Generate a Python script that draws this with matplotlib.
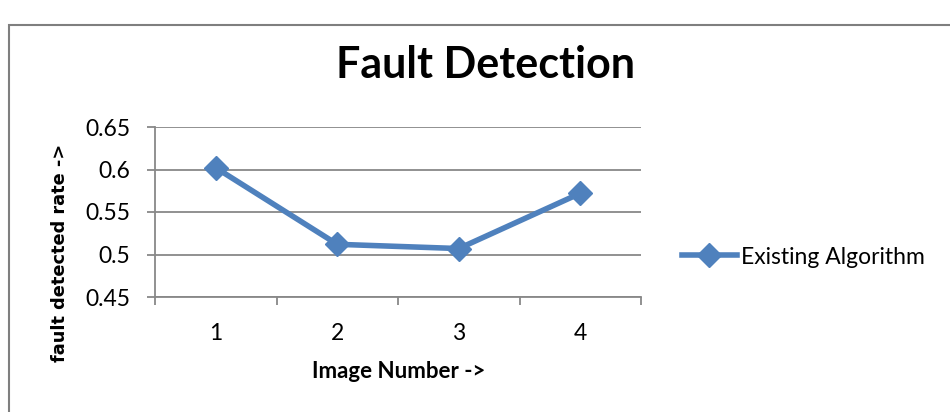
import matplotlib
matplotlib.use("Agg")
import matplotlib.pyplot as plt
from matplotlib.patches import Rectangle
from matplotlib.lines import Line2D

categories = ["1", "2", "3", "4"]
values = [0.602, 0.512, 0.507, 0.572]
series_name = "Existing Algorithm"
y_ticks = [0.45, 0.5, 0.55, 0.6, 0.65]
y_tick_labels = ["0.45", "0.5", "0.55", "0.6", "0.65"]

plt.rcParams['font.family'] = ['Lato', 'DejaVu Sans']
fig = plt.figure(figsize=(9.5, 4.12), dpi=100)
ax = fig.add_axes([155/950, 1-297/412, (641-155)/950, (297-127)/412])

blue = "#4F81BD"
grid_c = "#888888"
x = list(range(len(categories)))
ax.plot(x, values, color=blue, lw=4, marker="D", markersize=12.5,
        markerfacecolor=blue, markeredgecolor=blue, label=series_name, zorder=3,
        solid_joinstyle="round")

ax.set_xlim(-0.5, len(categories) - 0.5)
ax.set_ylim(0.45, 0.65)
ax.set_yticks(y_ticks)
ax.set_yticklabels(y_tick_labels, fontsize=16.5)
ax.set_xticks(x)
ax.set_xticklabels(categories, fontsize=16.5)
ax.set_xticks([i - 0.5 for i in range(len(categories) + 1)], minor=True)
ax.tick_params(axis="x", which="major", length=0, pad=19)
ax.tick_params(axis="x", which="minor", length=6, color=grid_c, width=1.3, direction="out")
ax.tick_params(axis="y", length=6, color=grid_c, width=1.3, pad=12)
ax.yaxis.grid(True, color=grid_c, lw=1.3)
ax.set_axisbelow(True)
for s in ["top", "right"]:
    ax.spines[s].set_visible(False)
for s in ["left", "bottom"]:
    ax.spines[s].set_color(grid_c)
    ax.spines[s].set_linewidth(1.3)

ax.set_xlabel("Image Number ->", fontsize=16, fontweight="bold")
ax.xaxis.set_label_coords(0.502, (297-372)/170)
ax.xaxis.label.set_va("center")
ax.set_ylabel("fault detected rate ->", fontsize=12.8, fontweight="bold",
              family="DejaVu Sans")
ax.yaxis.set_label_coords((60-155)/486, (297-253)/170)
ax.yaxis.label.set_va("center")
fig.text(486/950, 1-65/412, "Fault Detection", fontsize=31, fontweight="bold",
         ha="center", va="center")

handle = Line2D([0], [0], color=blue, lw=4, marker="D", markersize=12.5)
fig.legend([handle], [series_name], loc="center left",
           bbox_to_anchor=(661/950, 1-257/412), frameon=False, fontsize=16.5,
           handlelength=2.4, handletextpad=0.2)

fig.patches.append(Rectangle((9/950, -0.1), 1.2, 1-25/412 + 0.1, transform=fig.transFigure,
                             fill=False, edgecolor="#7f7f7f", lw=1.5))
fig.savefig("out.png", dpi=100, facecolor="white")
